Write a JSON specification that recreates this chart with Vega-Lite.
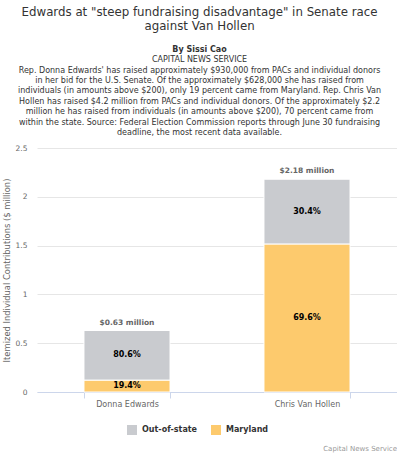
{
  "$schema": "https://vega.github.io/schema/vega-lite/v6.json",
  "background": "white",
  "padding": {"left": 2, "top": 7, "right": 0, "bottom": 2},
  "title": {
    "text": ["Edwards at \"steep fundraising disadvantage\" in Senate race", "against Van Hollen"],
    "font": "DejaVu Sans",
    "fontSize": 11.8,
    "fontWeight": "normal",
    "color": "#333333",
    "lineHeight": 14,
    "anchor": "middle",
    "frame": "bounds",
    "offset": 13
  },
  "datasets": {
    "segments": [
      {"candidate": "Donna Edwards", "region": "Maryland", "value": 0.122, "pct": "19.4%"},
      {"candidate": "Donna Edwards", "region": "Out-of-state", "value": 0.508, "pct": "80.6%"},
      {"candidate": "Chris Van Hollen", "region": "Maryland", "value": 1.517, "pct": "69.6%"},
      {"candidate": "Chris Van Hollen", "region": "Out-of-state", "value": 0.663, "pct": "30.4%"}
    ],
    "totals": [
      {"candidate": "Donna Edwards", "total": 0.63, "label": "$0.63 million"},
      {"candidate": "Chris Van Hollen", "total": 2.18, "label": "$2.18 million"}
    ]
  },
  "resolve": {"legend": {"color": "independent"}},
  "vconcat": [
    {
      "title": {
        "text": "Capital News Service",
        "orient": "bottom",
        "anchor": "end",
        "font": "DejaVu Sans",
        "fontSize": 7,
        "fontWeight": "normal",
        "color": "#999999",
        "offset": 10
      },
      "resolve": {"legend": {"color": "independent"}},
      "vconcat": [
        {
          "title": {
            "text": "By Sissi Cao",
            "subtitle": [
              "CAPITAL NEWS SERVICE",
              "Rep. Donna Edwards' has raised approximately $930,000 from PACs and individual donors",
              "in her bid for the U.S. Senate. Of the approximately $628,000 she has raised from",
              "individuals (in amounts above $200), only 19 percent came from Maryland. Rep. Chris Van",
              "Hollen has raised $4.2 million from PACs and individual donors. Of the approximately $2.2",
              "million he has raised from individuals (in amounts above $200), 70 percent came from",
              "within the state. Source: Federal Election Commission reports through June 30 fundraising",
              "deadline, the most recent data available."
            ],
            "font": "DejaVu Sans",
            "fontSize": 8,
            "fontWeight": "bold",
            "color": "#333333",
            "subtitleFont": "DejaVu Sans",
            "subtitleFontSize": 8,
            "subtitleColor": "#333333",
            "subtitleLineHeight": 10.4,
            "subtitlePadding": 2,
            "anchor": "middle",
            "frame": "bounds",
            "offset": 7
          },
          "width": 360,
          "height": 244,
          "layer": [
            {
              "data": {"name": "segments"},
              "mark": {"type": "bar", "stroke": "white", "strokeWidth": 1},
              "encoding": {
                "x": {
                  "field": "candidate",
                  "type": "nominal",
                  "sort": ["Donna Edwards", "Chris Van Hollen"],
                  "scale": {"paddingInner": 0.522, "paddingOuter": 0.261},
                  "axis": {
                    "title": null,
                    "labelAngle": 0,
                    "labelFont": "DejaVu Sans",
                    "labelFontSize": 8,
                    "labelColor": "#666666",
                    "labelPadding": 2,
                    "domainColor": "#ccd6eb",
                    "tickColor": "#ccd6eb",
                    "tickBand": "extent",
                    "tickSize": 6,
                    "grid": false
                  }
                },
                "y": {
                  "field": "value",
                  "type": "quantitative",
                  "stack": "zero",
                  "scale": {"domain": [0, 2.5], "nice": false},
                  "axis": {
                    "title": "Itemized Individual Contributions ($ million)",
                    "titleFont": "DejaVu Sans",
                    "titleFontSize": 8.4,
                    "titleFontWeight": "normal",
                    "titleColor": "#666666",
                    "titlePadding": 4,
                    "values": [0, 0.5, 1, 1.5, 2, 2.5],
                    "format": "~g",
                    "labelFont": "DejaVu Sans",
                    "labelFontSize": 7.5,
                    "labelColor": "#666666",
                    "labelPadding": 10,
                    "domain": false,
                    "ticks": false,
                    "gridColor": "#e6e6e6"
                  }
                },
                "color": {
                  "field": "region",
                  "type": "nominal",
                  "scale": {"domain": ["Out-of-state", "Maryland"], "range": ["#c9cbcf", "#fdca6d"]},
                  "legend": {
                    "title": null,
                    "orient": "none",
                    "legendX": 90,
                    "legendY": 277,
                    "direction": "horizontal",
                    "symbolType": "square",
                    "symbolSize": 100,
                    "symbolStrokeWidth": 0,
                    "labelFont": "DejaVu Sans",
                    "labelFontSize": 8,
                    "labelFontWeight": "bold",
                    "labelColor": "#333333",
                    "labelOffset": 5,
                    "columnPadding": 13
                  }
                },
                "order": {"field": "region", "sort": "ascending"}
              }
            },
            {
              "data": {"name": "segments"},
              "transform": [
                {"stack": "value", "groupby": ["candidate"], "sort": [{"field": "region", "order": "ascending"}], "as": ["v0", "v1"]},
                {"fold": ["v0", "v1"], "as": ["edge", "pos"]}
              ],
              "mark": {"type": "text", "font": "DejaVu Sans", "fontSize": 8, "fontWeight": "bold", "color": "#000000", "baseline": "middle"},
              "encoding": {
                "x": {"field": "candidate", "type": "nominal", "sort": ["Donna Edwards", "Chris Van Hollen"]},
                "y": {"field": "pos", "type": "quantitative", "aggregate": "mean"},
                "text": {"field": "pct", "type": "nominal"}
              }
            },
            {
              "data": {"name": "totals"},
              "mark": {"type": "text", "font": "DejaVu Sans", "fontSize": 7.5, "fontWeight": "bold", "color": "#666666", "baseline": "bottom", "dy": -4},
              "encoding": {
                "x": {"field": "candidate", "type": "nominal", "sort": ["Donna Edwards", "Chris Van Hollen"]},
                "y": {"field": "total", "type": "quantitative"},
                "text": {"field": "label", "type": "nominal"}
              }
            }
          ]
        }
      ]
    }
  ],
  "config": {
    "view": {"stroke": null},
    "concat": {"spacing": 0}
  }
}
